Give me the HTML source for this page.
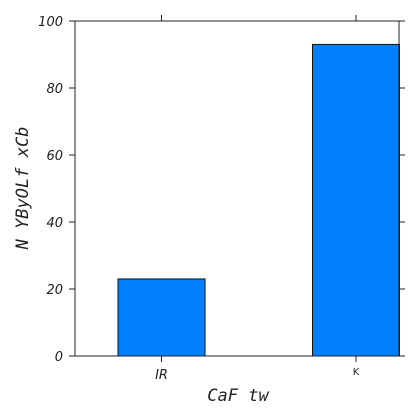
<!DOCTYPE html>
<html><head><meta charset="utf-8"><style>
body{margin:0;background:#fff;width:420px;height:420px;overflow:hidden}
svg{display:block}
.t{font-family:"DejaVu Sans","Liberation Sans",sans-serif;font-style:italic;font-size:13px;fill:#222}
.lab{font-family:"DejaVu Sans Mono","Liberation Mono",monospace;font-style:italic;font-size:17px;fill:#222}
</style></head><body>
<svg id="chart" width="420" height="420"></svg>
<script>
const categories=["IR","K"];
const values=[23,93];
const yTicks=[0,20,40,60,80,100];
const NS="http://www.w3.org/2000/svg";
const svg=document.getElementById('chart');
const L=75,R=399,T=21,B=356;
const y=v=>B-(v/100)*(B-T);
const x=i=>161.5+i*194.5;
const bw=87;
function mk(tag,attrs,parent){const e=document.createElementNS(NS,tag);for(const k in attrs)e.setAttribute(k,attrs[k]);(parent||svg).appendChild(e);return e;}
categories.forEach((c,i)=>{
  const r=mk('rect',{x:x(i)-bw/2,y:y(values[i]),width:bw,height:B-y(values[i]),fill:'#0080ff',stroke:'#111','stroke-width':1});
  
  
  const tk=mk('line',{x1:x(i),x2:x(i),y1:B,y2:B+6,stroke:'#222'});
  
  
  const tk2=mk('line',{x1:x(i),x2:x(i),y1:T,y2:T-6,stroke:'#222'});
  
  
  const tl=mk('text',{x:x(i),y:c==='K'?375:379,'text-anchor':'middle',class:'t'});
  if(c==='K'){tl.setAttribute('style','font-style:normal;font-size:10px');}
  tl.textContent=c;
  
  
});
yTicks.forEach(v=>{
  const a=mk('line',{x1:L-6,x2:L,y1:y(v),y2:y(v),stroke:'#222'});
  
  
  const b=mk('line',{x1:R,x2:R+6,y1:y(v),y2:y(v),stroke:'#222'});
  
  
  const t=mk('text',{x:L-12,y:y(v)+5,'text-anchor':'end',class:'t'});
  t.textContent=v;
  
  
});
const frame=mk('path',{d:`M${L} ${T}V${B}M${R} ${T}V${B}M${L} ${T}H${R+6}M${L} ${B}H${R+6}`,stroke:'#222',fill:'none','stroke-width':1});


const xl=mk('text',{x:238,y:401,'text-anchor':'middle',class:'lab'});
xl.textContent='CaF tw';


const yl=mk('text',{x:0,y:0,'text-anchor':'middle',class:'lab',transform:'translate(28,188) rotate(-90)'});
yl.textContent='N YByOLf xCb';


</script>
</body></html>
